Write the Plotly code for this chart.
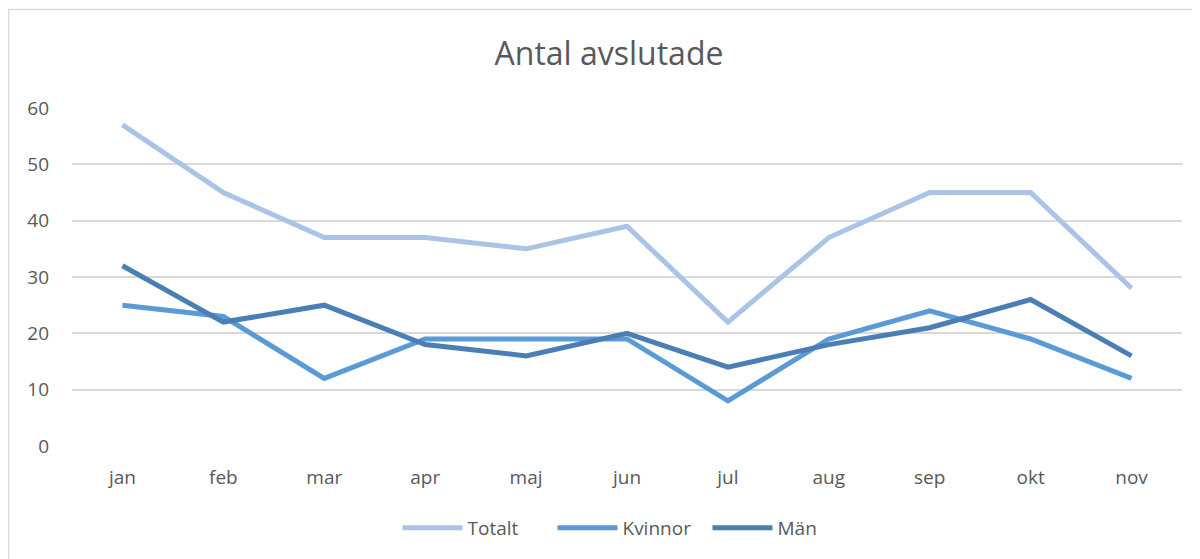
import plotly.graph_objects as go

months = ["jan", "feb", "mar", "apr", "maj", "jun", "jul", "aug", "sep", "okt", "nov"]
totalt = [57, 45, 37, 37, 35, 39, 22, 37, 45, 45, 28]
kvinnor = [25, 23, 12, 19, 19, 19, 8, 19, 24, 19, 12]
man = [32, 22, 25, 18, 16, 20, 14, 18, 21, 26, 16]
y_ticks = [0, 10, 20, 30, 40, 50, 60]

# the page body has an 8px default margin, so the figure is offset by 8px
OFF = 8
W, H = 1200 - OFF, 559 - OFF
L, R, T, B = 72 - OFF, 18, 108 - OFF, 113
pw, ph = W - L - R, H - T - B

def px(x):
    return (x - OFF - L) / pw

def py(y):
    return (H - B - (y - OFF)) / ph

font = "Open Sans"
grey = "#595959"

fig = go.Figure()
series = [("Totalt", totalt, "#A9C4E6"), ("Kvinnor", kvinnor, "#5B9BD5"), ("Män", man, "#4A7EB5")]
for name, vals, col in series:
    fig.add_trace(go.Scatter(x=months, y=vals, name=name, mode="lines",
                             line=dict(color=col, width=5)))

fig.update_layout(
    width=W, height=H,
    margin=dict(l=L, r=R, t=T, b=B),
    paper_bgcolor="white", plot_bgcolor="white",
    font=dict(family=font, size=19, color=grey),
    title=dict(text="Antal avslutade", x=(609 - OFF) / W, xanchor="center",
               y=1 - (54 - OFF) / H, yanchor="middle",
               font=dict(family=font, size=32, color=grey)),
    xaxis=dict(range=[-0.5, 10.5], showgrid=False, zeroline=False, showline=False, ticks="",
               tickfont=dict(size=19, color=grey), ticklabelstandoff=18),
    yaxis=dict(range=[0, 60], tickvals=y_ticks, showgrid=True, gridcolor="#D9D9D9",
               gridwidth=1.5, zeroline=False, showline=False, ticks="",
               tickfont=dict(size=19, color=grey), ticklabelstandoff=22),
    legend=dict(orientation="h", x=px(630), xanchor="center", y=py(528), yanchor="middle",
                font=dict(size=19, color=grey), itemwidth=60, traceorder="normal",
                entrywidth=80),
    shapes=[dict(type="rect", xref="paper", yref="paper",
                 x0=px(8.5), x1=px(1215), y0=py(575), y1=py(9.5),
                 line=dict(color="#D9D9D9", width=1.5), fillcolor="rgba(0,0,0,0)",
                 layer="below")],
)

fig.write_html("out.html")
